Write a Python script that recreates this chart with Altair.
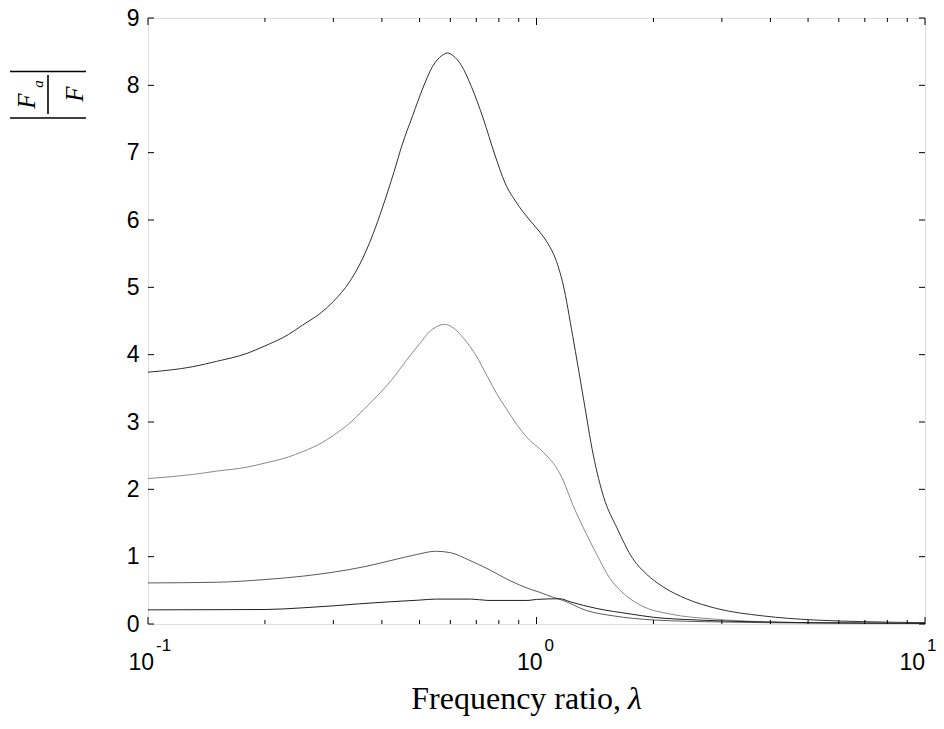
import altair as alt
import pandas as pd

# ---------------- data ----------------
lam1 = [0.10, 0.13, 0.15, 0.18, 0.20, 0.23, 0.25, 0.28, 0.30, 0.33, 0.35, 0.38, 0.40, 0.43,
        0.45, 0.48, 0.51, 0.54, 0.57, 0.59, 0.61, 0.64, 0.68, 0.73, 0.78, 0.83, 0.89, 0.96,
        1.02, 1.07, 1.12, 1.17, 1.24, 1.32, 1.40, 1.49, 1.61, 1.77, 1.92, 2.12, 2.43, 2.91,
        3.83, 5.16, 6.93, 10.0]
val1 = [3.74, 3.82, 3.90, 4.02, 4.13, 4.30, 4.44, 4.63, 4.79, 5.08, 5.33, 5.80, 6.16, 6.72,
        7.10, 7.55, 7.96, 8.28, 8.44, 8.48, 8.44, 8.30, 7.98, 7.50, 6.98, 6.55, 6.25, 6.00,
        5.82, 5.65, 5.42, 5.05, 4.27, 3.36, 2.51, 1.88, 1.43, 0.97, 0.74, 0.55, 0.375, 0.23,
        0.12, 0.06, 0.035, 0.02]

lam2 = [0.10, 0.13, 0.15, 0.18, 0.20, 0.23, 0.25, 0.28, 0.30, 0.33, 0.36, 0.40, 0.43, 0.46,
        0.50, 0.53, 0.56, 0.58, 0.61, 0.65, 0.70, 0.75, 0.79, 0.84, 0.89, 0.96, 1.02, 1.07,
        1.12, 1.17, 1.24, 1.32, 1.43, 1.54, 1.67, 1.88, 2.20, 2.85, 3.83, 5.50, 10.0]
val2 = [2.16, 2.22, 2.27, 2.33, 2.39, 2.48, 2.56, 2.69, 2.80, 2.98, 3.19, 3.46, 3.67, 3.90,
        4.16, 4.34, 4.43, 4.45, 4.40, 4.24, 3.98, 3.66, 3.42, 3.18, 2.96, 2.73, 2.60, 2.48,
        2.34, 2.14, 1.77, 1.43, 1.03, 0.69, 0.46, 0.26, 0.15, 0.074, 0.034, 0.017, 0.01]

lam3 = [0.10, 0.15, 0.20, 0.25, 0.30, 0.36, 0.42, 0.49, 0.55, 0.60, 0.67, 0.76, 0.85, 0.96,
        1.02, 1.10, 1.17, 1.345, 1.58, 2.00, 3.00, 5.00, 10.0]
val3 = [0.61, 0.62, 0.66, 0.71, 0.77, 0.85, 0.94, 1.03, 1.08, 1.06, 0.95, 0.80, 0.65, 0.52,
        0.47, 0.40, 0.35, 0.20, 0.12, 0.06, 0.03, 0.015, 0.01]

lam4 = [0.10, 0.20, 0.25, 0.30, 0.35, 0.42, 0.50, 0.55, 0.68, 0.75, 0.95, 1.00, 1.15, 1.22,
        1.43, 1.74, 2.00, 2.58, 3.50, 5.00, 10.0]
val4 = [0.21, 0.215, 0.24, 0.27, 0.30, 0.33, 0.355, 0.37, 0.37, 0.35, 0.35, 0.365, 0.375, 0.33,
        0.23, 0.15, 0.10, 0.06, 0.035, 0.02, 0.01]

series_names = ["s1", "s2", "s3", "s4"]
series_colors = ["#303030", "#8a8a8a", "#5a5a5a", "#202020"]

x_major = [0.1, 1.0, 10.0]
x_major_base = ["10", "10", "10"]
x_major_exp = ["-1", "0", "1"]
x_minor = [0.2, 0.3, 0.4, 0.5, 0.6, 0.7, 0.8, 0.9, 2, 3, 4, 5, 6, 7, 8, 9]
y_ticks = [0, 1, 2, 3, 4, 5, 6, 7, 8, 9]

# ---------------- build tables ----------------
frames = []
for name, lam, val in zip(series_names, [lam1, lam2, lam3, lam4], [val1, val2, val3, val4]):
    frames.append(pd.DataFrame({"lam": lam, "val": val, "series": name}))
df = pd.concat(frames, ignore_index=True)

df_major = pd.DataFrame({"t": x_major, "base": x_major_base, "exp": x_major_exp})
df_minor = pd.DataFrame({"t": x_minor})
df_y = pd.DataFrame({"t": y_ticks})

W, H = 777, 606
xs = alt.Scale(type="log", domain=[0.1, 10], nice=False)
ys = alt.Scale(domain=[0, 9], nice=False, zero=False)

yaxis = alt.Axis(values=y_ticks, labelFont="Liberation Sans", labelFontSize=23,
                 labelColor="black", ticks=False, domain=False, grid=False,
                 labelPadding=9, title=None)

lines = alt.Chart(df).mark_line(strokeWidth=1, interpolate="monotone").encode(
    x=alt.X("lam:Q", scale=xs, axis=None),
    y=alt.Y("val:Q", scale=ys, axis=yaxis),
    color=alt.Color("series:N", scale=alt.Scale(domain=series_names, range=series_colors),
                    legend=None),
    order=alt.Order("lam:Q"),
)

def xticks(data, y0, y1):
    return alt.Chart(data).mark_rule(color="black", strokeWidth=1).encode(
        x=alt.X("t:Q", scale=xs, axis=None), y=alt.value(y0), y2=alt.value(y1))

def yticks(x0, x1):
    return alt.Chart(df_y).mark_rule(color="black", strokeWidth=1).encode(
        y=alt.Y("t:Q", scale=ys, axis=yaxis), x=alt.value(x0), x2=alt.value(x1))

tick_layers = [
    xticks(df_minor, H, H - 4), xticks(df_minor, 0, 4),
    xticks(df_major, H, H - 7), xticks(df_major, 0, 7),
    yticks(0, 6), yticks(W, W - 6),
]

def xlabels(filter_expr, base_dx, exp_dx):
    b = alt.Chart(df_major).transform_filter(filter_expr).mark_text(
        align="right", baseline="alphabetic", dx=base_dx, font="Liberation Sans", fontSize=23,
        color="black").encode(x=alt.X("t:Q", scale=xs, axis=None), y=alt.value(652),
                              text="base:N")
    e = alt.Chart(df_major).transform_filter(filter_expr).mark_text(
        align="left", baseline="alphabetic", dx=exp_dx, font="Liberation Sans", fontSize=17,
        color="black").encode(x=alt.X("t:Q", scale=xs, axis=None), y=alt.value(633),
                              text="exp:N")
    return [b, e]

label_layers = xlabels("datum.t < 5", 6, 8) + xlabels("datum.t > 5", 0, 2)

# x title
xt1 = alt.Chart(pd.DataFrame({"s": ["Frequency ratio,"]})).mark_text(
    align="right", baseline="alphabetic", font="Liberation Serif", fontSize=32,
    color="black").encode(x=alt.value(473), y=alt.value(691), text="s:N")
xt2 = alt.Chart(pd.DataFrame({"s": ["λ"]})).mark_text(
    align="left", baseline="alphabetic", font="Liberation Serif", fontSize=32,
    fontStyle="italic", color="black").encode(x=alt.value(480), y=alt.value(691), text="s:N")

# y title: |F_a / F| rotated
def hbar(x0, x1, y):
    return alt.Chart(pd.DataFrame({"k": [0]})).mark_rule(color="black", strokeWidth=1.6).encode(
        x=alt.value(x0), x2=alt.value(x1), y=alt.value(y))

ybars = [
    hbar(-138, -62, 53.5), hbar(-138, -62, 100),
    alt.Chart(pd.DataFrame({"k": [0]})).mark_rule(color="black", strokeWidth=1.6).encode(
        x=alt.value(-100), y=alt.value(57), y2=alt.value(96)),
]

def ytext(s, x, y, size):
    return alt.Chart(pd.DataFrame({"s": [s]})).mark_text(
        align="center", baseline="alphabetic", angle=270, font="Liberation Serif",
        fontStyle="italic", fontSize=size, color="black").encode(
        x=alt.value(x), y=alt.value(y), text="s:N")

ytitle = [ytext("F", -113, 83, 25), ytext("a", -105, 66, 15), ytext("F", -65, 76, 25)]

chart = alt.layer(lines, *tick_layers, *label_layers, xt1, xt2, *ybars, *ytitle).properties(
    width=W, height=H,
    autosize=alt.AutoSizeParams(type="none"),
    padding={"left": 140, "top": 10, "right": 11, "bottom": 93},
).configure_view(stroke="black", strokeWidth=1).configure(background="white")

chart.save("out.html", embed_options={"renderer": "svg", "actions": False})
